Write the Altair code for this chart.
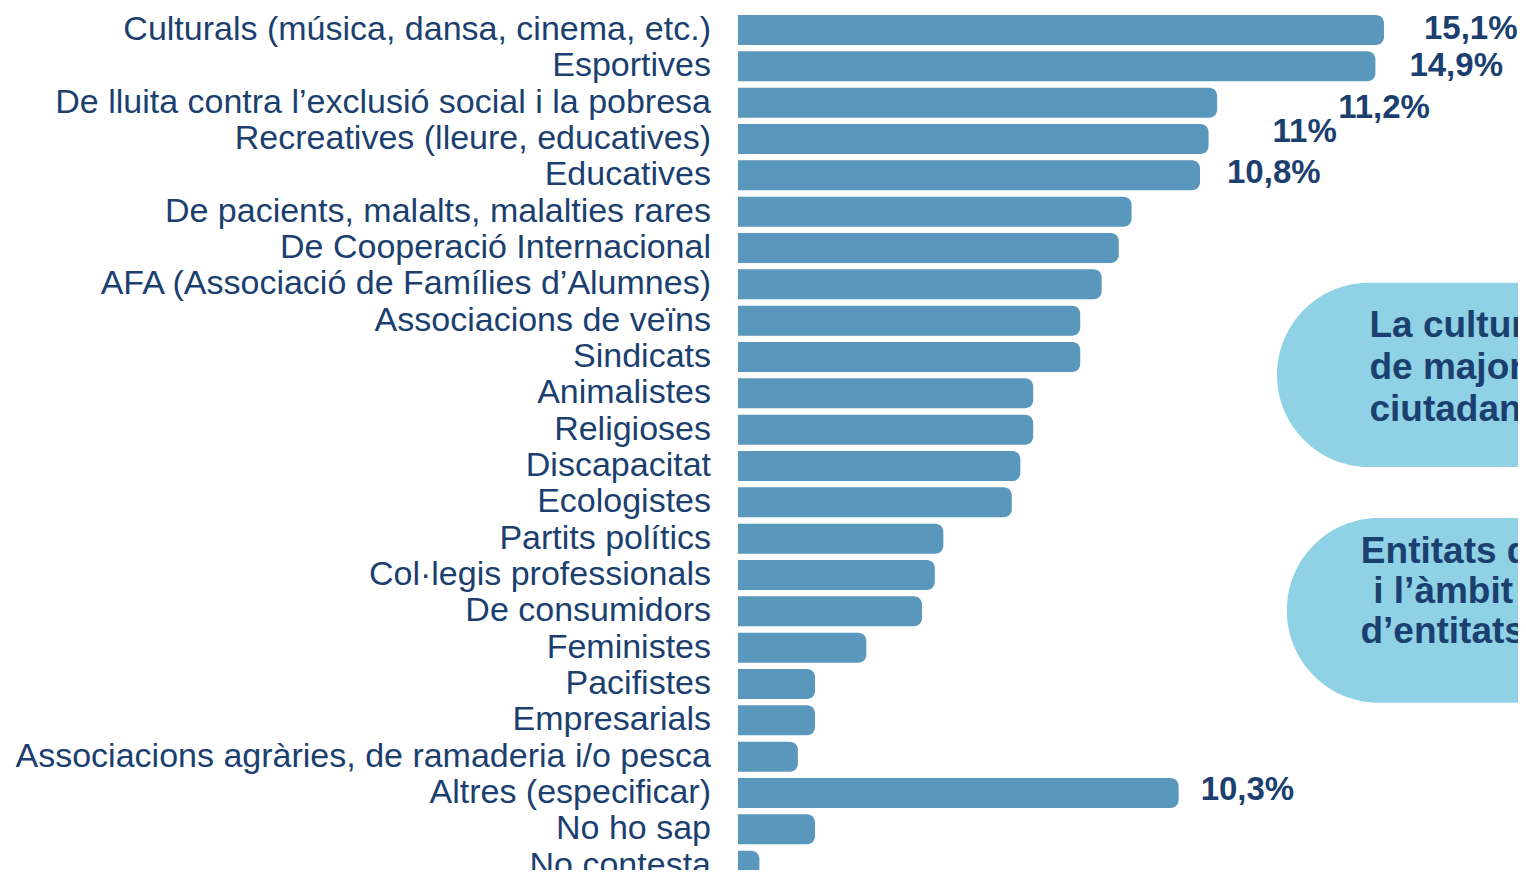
import altair as alt
import pandas as pd

categories = [
    "Culturals (música, dansa, cinema, etc.)",
    "Esportives",
    "De lluita contra l’exclusió social i la pobresa",
    "Recreatives (lleure, educatives)",
    "Educatives",
    "De pacients, malalts, malalties rares",
    "De Cooperació Internacional",
    "AFA (Associació de Famílies d’Alumnes)",
    "Associacions de veïns",
    "Sindicats",
    "Animalistes",
    "Religioses",
    "Discapacitat",
    "Ecologistes",
    "Partits polítics",
    "Col·legis professionals",
    "De consumidors",
    "Feministes",
    "Pacifistes",
    "Empresarials",
    "Associacions agràries, de ramaderia i/o pesca",
    "Altres (especificar)",
    "No ho sap",
    "No contesta",
]
values = [15.1, 14.9, 11.2, 11.0, 10.8, 9.2, 8.9, 8.5, 8.0, 8.0, 6.9, 6.9,
          6.6, 6.4, 4.8, 4.6, 4.3, 3.0, 1.8, 1.8, 1.4, 10.3, 1.8, 0.5]

label_texts = ["15,1%", "14,9%", "11,2%", "11%", "10,8%", "10,3%"]
label_rows = [0, 1, 2, 3, 4, 21]

pill_text1 = ["La cultura i l’esport,", "de major participació", "ciutadana"]
pill_text2 = ["Entitats de lluita contra l’exclusió", "i l’àmbit educatiu,", "d’entitats socials"]

BAR = "#5a97bd"
TEXT = "#1b3f6f"
PILL = "#8fd1e5"
FONT = "Liberation Sans"

df = pd.DataFrame({"cat": categories, "val": values, "row": list(range(len(categories)))})

x_scale = alt.Scale(domain=[0, 18.233], nice=False, zero=False)
y_scale = alt.Scale(domain=[-0.6055, 23.12], reverse=True, nice=False, zero=False)


def X(field):
    return alt.X(field, scale=x_scale, axis=None)


def Y(field):
    return alt.Y(field, scale=y_scale, axis=None)


bars = alt.Chart(df).mark_bar(
    color=BAR, cornerRadiusTopRight=8, cornerRadiusBottomRight=8, clip=True
).transform_calculate(
    y0="datum.row - 0.413", y1="datum.row + 0.413", x0="0"
).encode(x=X("x0:Q"), x2="val:Q", y=Y("y0:Q"), y2="y1:Q")

cat_labels = alt.Chart(df).transform_calculate(x0="0").mark_text(
    align="right", baseline="middle", font=FONT, fontSize=34, color=TEXT, dx=-27
).encode(x=X("x0:Q"), y=Y("row:Q"), text="cat:N")

# value labels with individual offsets
offsets = {"15,1%": (40, -1), "14,9%": (34, 0), "11,2%": (121, 5),
           "11%": (64, -7), "10,8%": (27, -2), "10,3%": (22, -3)}
label_layers = []
for t, r in zip(label_texts, label_rows):
    ldf = pd.DataFrame({"t": [t], "row": [r], "val": [values[r]]})
    dx, dy = offsets[t]
    label_layers.append(
        alt.Chart(ldf).mark_text(
            align="left", baseline="middle", font=FONT, fontSize=33,
            fontWeight="bold", color=TEXT, dx=dx, dy=dy
        ).encode(x=X("val:Q"), y=Y("row:Q"), text="t:N")
    )

# callout pills (annotations, clipped at the right edge)
pills = pd.DataFrame({
    "x0": [12.60, 12.83], "x1": [19.5, 19.5],
    "y0": [6.96, 13.43], "y1": [12.03, 18.52],
})
pill_layer = alt.Chart(pills).mark_rect(
    color=PILL, cornerRadiusTopLeft=92, cornerRadiusBottomLeft=92, clip=True
).encode(x=X("x0:Q"), x2="x1:Q", y=Y("y0:Q"), y2="y1:Q")

pt1 = pd.DataFrame({"t": pill_text1, "row": [8.15, 9.31, 10.46], "x": [14.76] * 3})
pt2 = pd.DataFrame({"t": pill_text2, "row": [14.37, 15.47, 16.57], "x": [14.56, 14.85, 14.55]})
ptext1 = alt.Chart(pt1).mark_text(
    align="left", baseline="middle", font=FONT, fontSize=37, fontWeight="bold",
    color=TEXT, clip=True
).encode(x=X("x:Q"), y=Y("row:Q"), text="t:N")
ptext2 = alt.Chart(pt2).mark_text(
    align="left", baseline="middle", font=FONT, fontSize=37, fontWeight="bold",
    color=TEXT, clip=True
).encode(x=X("x:Q"), y=Y("row:Q"), text="t:N")

chart = alt.layer(bars, cat_labels, pill_layer, ptext1, ptext2, *label_layers).properties(
    width=780, height=862,
    autosize=alt.AutoSizeParams(type="none"),
    padding={"left": 730, "top": 0, "right": 0, "bottom": 0},
    view=alt.ViewBackground(strokeOpacity=0, strokeWidth=0, fill="white"),
).configure_view(strokeOpacity=0, strokeWidth=0).configure_axis(
    grid=False, domain=False
).configure(background="white")

chart.save("out.html", embed_options={"renderer": "svg", "actions": False})
